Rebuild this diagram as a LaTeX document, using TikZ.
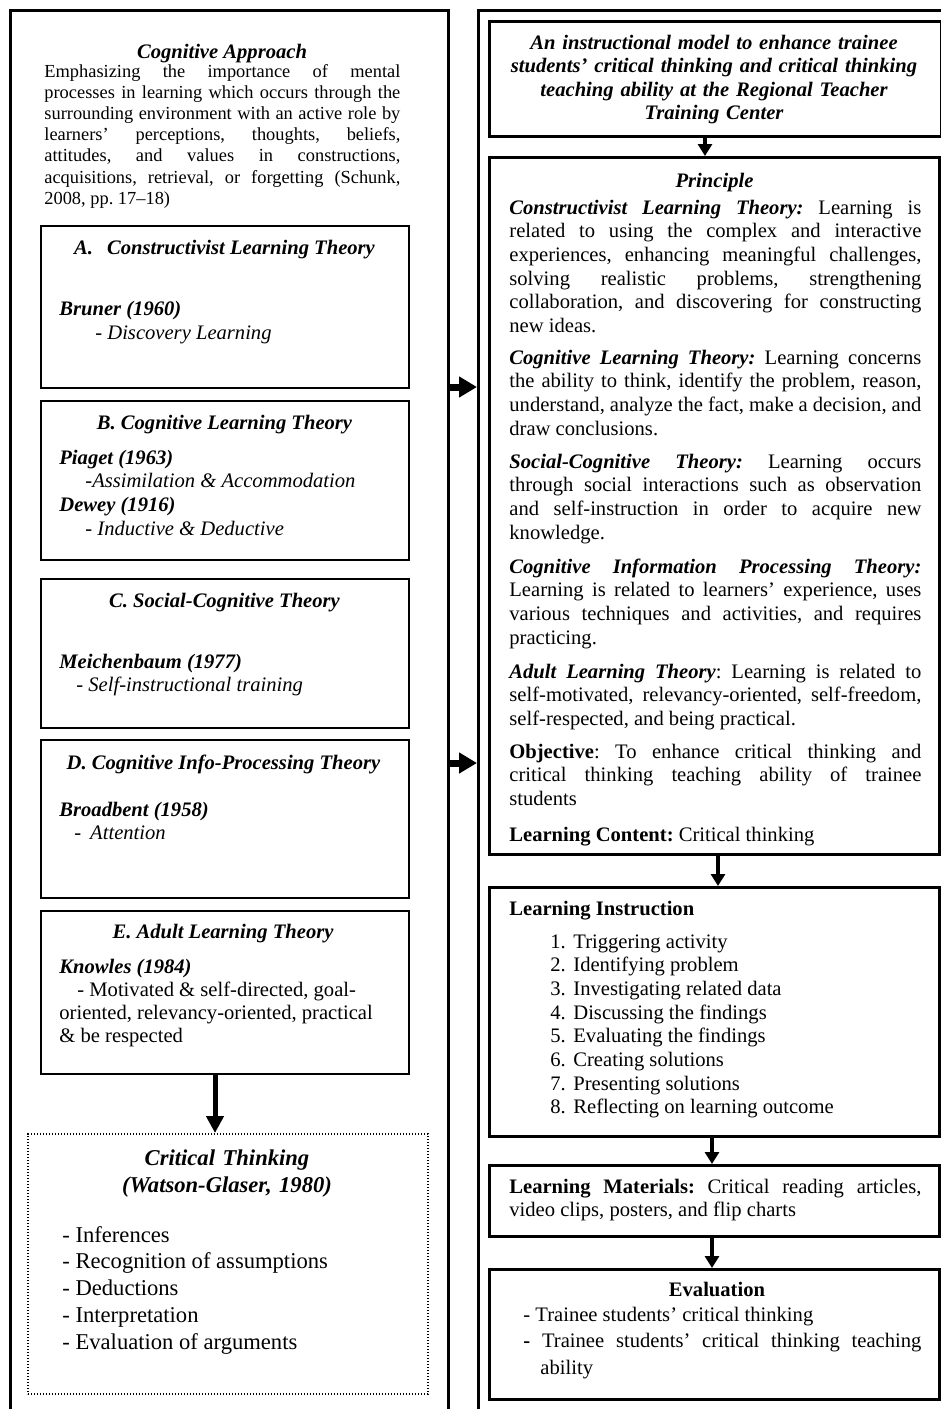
\documentclass[tikz,border=0pt]{standalone}
\usepackage{fontspec}
\setmainfont{Liberation Serif}
\usetikzlibrary{arrows.meta}
\newcommand{\JL}[1]{\hbox to \hsize{\spaceskip=0pt\xspaceskip=0pt #1}\par}
\newcommand{\bi}[1]{\textbf{\textit{#1}}}
\newcommand{\fsB}{\fontsize{10.3}{11.85}\selectfont}
\newcommand{\fsD}{\fontsize{9.2}{10.6}\selectfont}
\newcommand{\fsT}{\fontsize{10.3}{11.75}\selectfont\bfseries\itshape}
\newcommand{\fsC}{\fontsize{11.3}{13.4}\selectfont}
\tikzset{
  frm/.style={draw, line width=1.3pt, inner sep=0pt, anchor=north west},
  lbox/.style={draw, line width=1.1pt, inner sep=0pt, anchor=north west, minimum width=184pt},
  rbox/.style={draw, line width=1.5pt, inner sep=0pt, anchor=north west, minimum width=225pt},
  dbox/.style={draw, line width=0.9pt, dash pattern=on 0.6pt off 0.9pt, inner sep=0pt, anchor=north west},
  txt/.style={inner sep=0pt, anchor=base west, align=justify},
  ctxt/.style={inner sep=0pt, anchor=base, align=center},
  varr/.style={line width=2pt, -{Triangle[length=6pt,width=7pt]}},
  varrb/.style={line width=2.5pt, -{Triangle[length=8.5pt,width=8.5pt]}},
  harr/.style={line width=3.5pt, -{Triangle[length=9pt,width=10pt]}},
}
\begin{document}
\frenchspacing
\begin{tikzpicture}[x=0.5pt,y=-0.5pt]
\useasboundingbox (0,0) rectangle (941,1409);
\fill[white] (0,0) rectangle (941,1409);

% outer frames
\node[frm, minimum width=219pt, minimum height=708pt] (lframe) at (9,9) {};
\node[frm, minimum width=239pt, minimum height=708pt] (rframe) at (477,9) {};

% ---------- left column ----------
\node[ctxt, font=\fontsize{10.3}{12}\selectfont\bfseries\itshape] (catitle) at (222,58) {Cognitive Approach};
\node[txt, text width=178pt, font=\fsD] (cadesc) at (44,77) {%
\JL{Emphasizing the importance of mental}%
\JL{processes in learning which occurs through the}%
\JL{surrounding environment with an active role by}%
\JL{learners’ perceptions, thoughts, beliefs,}%
\JL{attitudes, and values in constructions,}%
\JL{acquisitions, retrieval, or forgetting (Schunk,}%
\noindent 2008, pp. 17–18)};

\node[lbox, minimum height=81pt] (A) at (40,225) {};
\node[ctxt, font=\fsB\bfseries\itshape] (Atitle) at (224.5,254) {A.\hspace{7pt}Constructivist Learning Theory};
\node[txt, text width=170pt, font=\fontsize{10.3}{12}\selectfont] (Atext) at (59,315) {\bi{Bruner (1960)}\\\hspace*{18pt}\textit{- Discovery Learning}};

\node[lbox, minimum height=79.5pt] (B) at (40,400) {};
\node[ctxt, font=\fsB\bfseries\itshape] (Btitle) at (224.5,429) {B. Cognitive Learning Theory};
\node[txt, text width=170pt, font=\fsB] (Btext) at (59,464) {\bi{Piaget (1963)}\\\hspace*{13pt}\textit{-Assimilation \& Accommodation}\\\bi{Dewey (1916)}\\\hspace*{13pt}\textit{- Inductive \& Deductive}};

\node[lbox, minimum height=74.5pt] (C) at (40,578) {};
\node[ctxt, font=\fsB\bfseries\itshape] (Ctitle) at (224.5,607) {C. Social-Cognitive Theory};
\node[txt, text width=170pt, font=\fsB] (Ctext) at (59,668) {\bi{Meichenbaum (1977)}\\\hspace*{8.5pt}\textit{- Self-instructional training}};

\node[lbox, minimum height=79pt] (D) at (40,739) {};
\node[ctxt, font=\fsB\bfseries\itshape] (Dtitle) at (223.5,769) {D. Cognitive Info-Processing Theory};
\node[txt, text width=170pt, font=\fsB] (Dtext) at (59,816) {\bi{Broadbent (1958)}\\\hspace*{7.5pt}\textit{-\hspace{4.5pt}Attention}};

\node[lbox, minimum height=81.5pt] (E) at (40,910) {};
\node[ctxt, font=\fsB\bfseries\itshape] (Etitle) at (223,938) {E. Adult Learning Theory};
\node[txt, text width=170pt, font=\fontsize{10.3}{11.5}\selectfont] (Etext) at (59,973) {\bi{Knowles (1984)}\\\hspace*{9pt}- Motivated \& self-directed, goal-\\oriented, relevancy-oriented, practical\\\& be respected};

\node[dbox, minimum width=200pt, minimum height=130pt] (CT) at (27,1133) {};
\node[ctxt, text width=190pt, font=\fontsize{11.3}{13.5}\selectfont\bfseries\itshape] (CTtitle) at (227,1165) {Critical Thinking\\(Watson-Glaser, 1980)};
\node[txt, text width=190pt, font=\fsC] (CTtext) at (62,1242) {- Inferences\\- Recognition of assumptions\\- Deductions\\- Interpretation\\- Evaluation of arguments};

% ---------- right column ----------
\node[rbox, minimum width=226pt, minimum height=57.5pt] (top) at (488,20) {};
\node[ctxt, text width=224pt, font=\fsT] (toptext) at (714,49) {An instructional model to enhance trainee\\students’ critical thinking and critical thinking\\teaching ability at the Regional Teacher\\Training Center};

\node[rbox, minimum height=348.5pt] (prin) at (488,156) {};
\node[ctxt, font=\fsB\bfseries\itshape] (prtitle) at (714.5,187) {Principle};
\node[txt, text width=206pt, font=\fsB] (p1) at (509,214) {%
\JL{\bi{Constructivist Learning Theory:} Learning is}%
\JL{related to using the complex and interactive}%
\JL{experiences, enhancing meaningful challenges,}%
\JL{solving realistic problems, strengthening}%
\JL{collaboration, and discovering for constructing}%
\noindent new ideas.};
\node[txt, text width=206pt, font=\fsB] (p2) at (509,364) {%
\JL{\bi{Cognitive Learning Theory:} Learning concerns}%
\JL{the ability to think, identify the problem, reason,}%
\JL{understand, analyze the fact, make a decision, and}%
\noindent draw conclusions.};
\node[txt, text width=206pt, font=\fsB] (p3) at (509,468) {%
\JL{\bi{Social-Cognitive Theory:} Learning occurs}%
\JL{through social interactions such as observation}%
\JL{and self-instruction in order to acquire new}%
\noindent knowledge.};
\node[txt, text width=206pt, font=\fsB] (p4) at (509,573) {%
\JL{\bi{Cognitive Information Processing Theory:}}%
\JL{Learning is related to learners’ experience, uses}%
\JL{various techniques and activities, and requires}%
\noindent practicing.};
\node[txt, text width=206pt, font=\fsB] (p5) at (509,678) {%
\JL{\bi{Adult Learning Theory}: Learning is related to}%
\JL{self-motivated, relevancy-oriented, self-freedom,}%
\noindent self-respected, and being practical.};
\node[txt, text width=206pt, font=\fsB] (p6) at (509,758) {%
\JL{\textbf{Objective}: To enhance critical thinking and}%
\JL{critical thinking teaching ability of trainee}%
\noindent students};
\node[txt, text width=206pt, font=\fsB] (p7) at (509,841) {\textbf{Learning Content:} Critical thinking};

\node[rbox, minimum height=124.5pt] (instr) at (488,886) {};
\node[txt, font=\fsB\bfseries] (instrtitle) at (509,915) {Learning Instruction};
\node[txt, text width=190pt, font=\fsB] (instrlist) at (550,948) {%
\makebox[11.5pt][l]{1.}Triggering activity\\
\makebox[11.5pt][l]{2.}Identifying problem\\
\makebox[11.5pt][l]{3.}Investigating related data\\
\makebox[11.5pt][l]{4.}Discussing the findings\\
\makebox[11.5pt][l]{5.}Evaluating the findings\\
\makebox[11.5pt][l]{6.}Creating solutions\\
\makebox[11.5pt][l]{7.}Presenting solutions\\
\makebox[11.5pt][l]{8.}Reflecting on learning outcome};

\node[rbox, minimum height=35.5pt] (mat) at (488,1164) {};
\node[txt, text width=206pt, font=\fontsize{10.3}{11.65}\selectfont] (mattext) at (509,1193) {%
\JL{\textbf{Learning Materials:} Critical reading articles,}%
\noindent video clips, posters, and flip charts};

\node[rbox, minimum height=65pt] (eval) at (488,1268) {};
\node[ctxt, font=\fsB\bfseries] (evaltitle) at (717,1296) {Evaluation};
\node[txt, text width=199pt, font=\fontsize{10.3}{13.25}\selectfont] (evaltext) at (523,1321) {%
- Trainee students’ critical thinking\par
\JL{\textbf{-} Trainee students’ critical thinking teaching}%
\noindent\hspace*{8.5pt}ability};

% ---------- connectors ----------
\coordinate (h1) at (0,387);
\coordinate (h2) at (0,763);
\draw[harr] (h1 -| lframe.east) -- (h1 -| rframe.west);
\draw[harr] (h2 -| lframe.east) -- (h2 -| rframe.west);

\coordinate (v1) at (705,0);
\coordinate (v2) at (718,0);
\coordinate (v3) at (712,0);
\coordinate (v5) at (215,0);
\draw[varr] (top.south -| v1) -- (prin.north -| v1);
\draw[varr] (prin.south -| v2) -- (instr.north -| v2);
\draw[varr] (instr.south -| v3) -- (mat.north -| v3);
\draw[varr] (mat.south -| v3) -- (eval.north -| v3);
\draw[varrb] (E.south -| v5) -- (CT.north -| v5);
\end{tikzpicture}
\end{document}
